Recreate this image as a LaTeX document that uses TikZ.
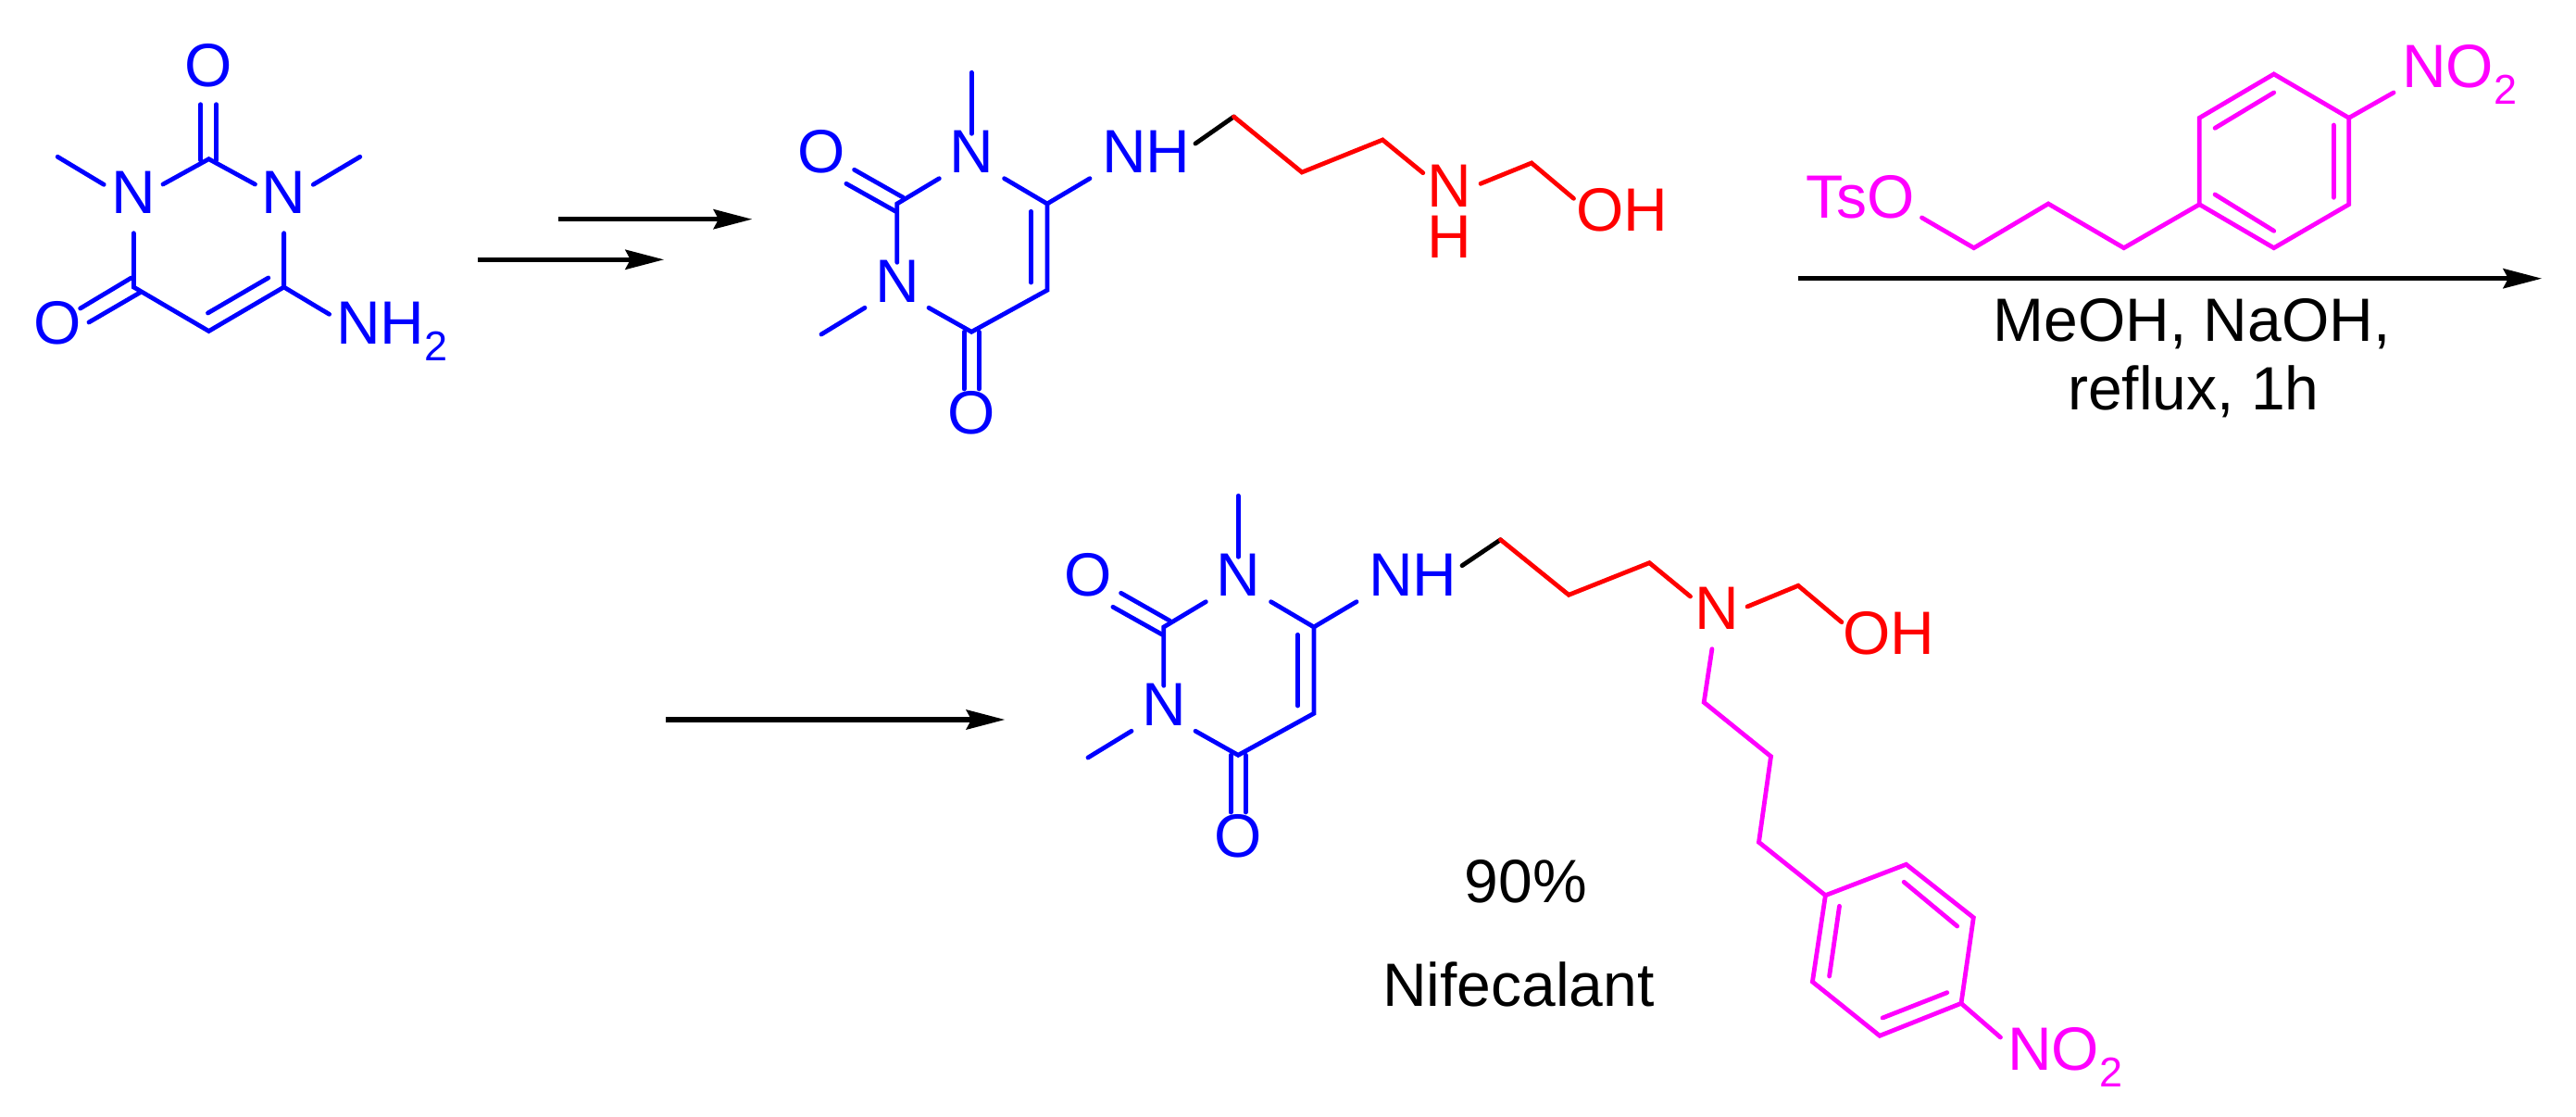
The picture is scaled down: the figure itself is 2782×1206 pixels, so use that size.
\documentclass[tikz,border=0pt]{standalone}
\usepackage{fontspec}
\setmainfont{Liberation Sans}
\definecolor{molblue}{RGB}{0,0,255}
\definecolor{molred}{RGB}{255,0,0}
\definecolor{molpink}{RGB}{255,0,255}
\newcommand{\chemfont}{\fontsize{66}{66}\selectfont}
\newcommand{\subtwo}{\raisebox{-18pt}{\fontsize{45}{45}\selectfont 2}}
\tikzset{
  bond/.style={line width=4.8pt,line cap=round,line join=miter},
  atom/.style={inner sep=0pt,outer sep=0pt,anchor=base west,font=\chemfont},
  atomc/.style={inner sep=0pt,outer sep=0pt,anchor=base,font=\chemfont},
  rxnline/.style={line width=5.3pt,black},
  rxnhead/.style={fill=black,draw=none},
  note/.style={inner sep=0pt,outer sep=0pt,anchor=base,font=\chemfont,text=black}
}
% arrow: #1 name, #2 x start, #3 x tip, #4 y
\newcommand{\rxnarrow}[4]{%
  \coordinate (#1s) at (#2,#4);
  \coordinate (#1t) at (#3,#4);
  \draw[rxnline] (#1s) -- ([xshift=-30pt]#1t);
  \fill[rxnhead] (#1t) -- ([xshift=-42pt,yshift=11pt]#1t) -- ([xshift=-36pt]#1t) -- ([xshift=-42pt,yshift=-11pt]#1t) -- cycle;
}
% pyrimidine core of the intermediate/product
\newcommand{\core}[1]{%
\begin{scope}[shift={#1}]
  \node[atomc,text=molblue] (cO) at (887,186.7) {O};
  \node[atomc,text=molblue] (cNa) at (1049.8,186.7) {N};
  \node[atomc,text=molblue] (cNb) at (969.5,326.7) {N};
  \node[atomc,text=molblue] (cOb) at (1049.2,468) {O};
  \node[atom,text=molblue] (cNH) at (1190,186.7) {NH};
  \draw[bond,molblue] (1049.2,78.3) -- (1049.2,144.3);
  \draw[bond,molblue] (922.6,183.3) -- (975.5,213.3) (913.9,198.3) -- (967.4,228.3);
  \draw[bond,molblue] (1014.3,192.7) -- (968.8,220) -- (968.8,283.3);
  \draw[bond,molblue] (934,332.3) -- (887,361);
  \draw[bond,molblue] (1003,332.3) -- (1049.2,358.3) -- (1130.9,313.3) -- (1130.9,220) -- (1084.6,192.7);
  \draw[bond,molblue] (1130.9,220) -- (1177,192.7);
  \draw[bond,molblue] (1113.5,228.3) -- (1113.5,305);
  \draw[bond,molblue] (1041.1,358.3) -- (1041.1,420) (1057.2,358.3) -- (1057.2,420);
\end{scope}}
\begin{document}
\begin{tikzpicture}[x=1pt,y=-1pt]
\useasboundingbox (0,0) rectangle (2782,1206);
\fill[white] (0,0) rectangle (2782,1206);
% --- starting material
\node[atomc,text=molblue] (sO) at (225.5,93.5) {O};
\node[atomc,text=molblue] (sNa) at (143.9,230.7) {N};
\node[atomc,text=molblue] (sNb) at (306.6,230.7) {N};
\node[atomc,text=molblue] (sOb) at (62.2,371.7) {O};
\node[atom,text=molblue] (sNH) at (363,371.7) {NH\subtwo};
\draw[bond,molblue] (216.8,112.7) -- (216.8,173) (233.7,112.7) -- (233.7,173);
\draw[bond,molblue] (176,199) -- (225.5,171.7) -- (275.5,199);
\draw[bond,molblue] (62.2,169.3) -- (112.2,199.3);
\draw[bond,molblue] (388.8,169.3) -- (338.3,199.3);
\draw[bond,molblue] (144.4,251.7) -- (144.4,310) -- (225.5,357.5) -- (306.6,310) -- (306.6,251.7);
\draw[bond,molblue] (289.8,300) -- (224.5,338);
\draw[bond,molblue] (86.7,333) -- (141.8,300) (96,348) -- (151.5,315.7);
\draw[bond,molblue] (306.6,310) -- (355.6,339.3);
% --- arrows
\rxnarrow{a}{603}{812}{236.7}
\rxnarrow{b}{515.8}{716.8}{280.3}
\rxnarrow{c}{1942.2}{2744.8}{300.7}
\rxnarrow{d}{719}{1085}{777}
% --- intermediate
\core{(0,0)}
\draw[bond,black] (1291,155) -- (1332.5,126);
\draw[bond,molred] (1332.5,126) -- (1406,186) -- (1493.2,151) -- (1536.8,186.7);
\node[atomc,text=molred] (iN) at (1565.6,223.3) {N};
\node[atomc,text=molred] (iH) at (1565.6,278.3) {H};
\draw[bond,molred] (1599,198.3) -- (1654,176) -- (1699.5,214.3);
\node[atom,text=molred] (iOH) at (1702,249.3) {OH};
% --- reagent
\node[atom,text=molpink] (rTs) at (1950,235.7) {TsO};
\draw[bond,molpink] (2075.5,235) -- (2131.7,267.7) -- (2212.1,220) -- (2293.7,267.7) -- (2375.3,220.7);
\draw[bond,molpink] (2375.3,220.7) -- (2375.3,127.3) -- (2455.7,80) -- (2536.7,127.3) -- (2536.7,220.7) -- (2455.7,267.7) -- cycle;
\draw[bond,molpink] (2392.1,138.3) -- (2455.7,100) (2520.4,135) -- (2520.4,213.3) (2392.1,210) -- (2455.7,249.3);
\draw[bond,molpink] (2536.7,127.3) -- (2585,100);
\node[atom,text=molpink] (rNO) at (2594,94.3) {NO\subtwo};
\node[note] (cond1) at (2367,368.3) {MeOH, NaOH,};
\node[note] (cond2) at (2369,442.3) {reflux, 1h};
% --- product
\core{(288,457)}
\draw[bond,black] (1579,610.7) -- (1620.5,582.7);
\draw[bond,molred] (1620.5,582.7) -- (1694.2,642.3) -- (1781.3,607.7) -- (1825.5,644);
\node[atomc,text=molred] (pN) at (1854.3,679.3) {N};
\draw[bond,molred] (1887,655) -- (1942,632.3) -- (1988.9,671.7);
\node[atom,text=molred] (pOH) at (1990,706) {OH};
\draw[bond,molpink] (1848.9,700.7) -- (1840.2,758.3) -- (1912.5,816.7) -- (1899.5,909.3) -- (1971.4,966.7);
\draw[bond,molpink] (1971.4,966.7) -- (2058.6,933.3) -- (2131.3,990.7) -- (2118,1083.3) -- (2030,1118.3) -- (1957.4,1060) -- cycle;
\draw[bond,molpink] (2056.2,952.3) -- (2113.7,1000) (2102.8,1071.7) -- (2033.1,1099) (1986.5,978.3) -- (1975.6,1054);
\draw[bond,molpink] (2118,1083.3) -- (2160.4,1120);
\node[atom,text=molpink] (pNO) at (2168,1155) {NO\subtwo};
\node[note] (yield) at (1648,974) {90\%};
\node[note] (name) at (1640,1086.7) {Nifecalant};
\end{tikzpicture}
\end{document}
